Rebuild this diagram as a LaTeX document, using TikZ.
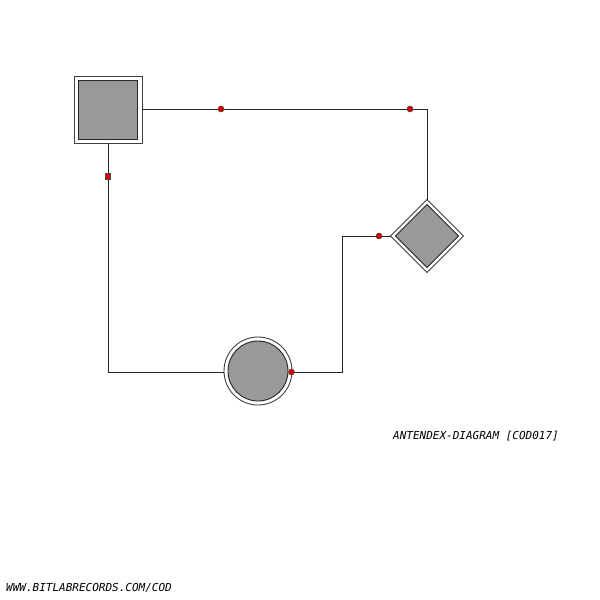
\documentclass[tikz,border=0pt]{standalone}
\usepackage{fontspec}
\newfontfamily\labelfont{DejaVu Sans Mono}
\usetikzlibrary{shapes.geometric}
\begin{document}
\begin{tikzpicture}[x=1pt,y=-1pt,
  outerbox/.style={draw=black!75,fill=white,line width=0.9pt,inner sep=0,outer sep=0},
  innerfill/.style={draw=black!85,fill=black!40,line width=0.9pt,inner sep=0,outer sep=0},
  wire/.style={draw=black!85,line width=1pt},
  rdot/.style={circle,fill=red!85!black,draw=black!70,line width=0.5pt,minimum size=6pt,inner sep=0},
  rsq/.style={rectangle,fill=red!85!black,draw=black!70,line width=0.5pt,minimum size=5.5pt,inner sep=0},
  caption/.style={font=\labelfont\itshape\fontsize{11}{12}\selectfont,inner sep=0,anchor=west}]
\useasboundingbox[fill=white] (0,0) rectangle (600,600);
% square
\node[outerbox,rectangle,minimum width=68,minimum height=67] (sq) at (108,109.5) {};
\node[innerfill,rectangle,minimum width=59,minimum height=59] (sqi) at (108,109.5) {};
% diamond
\node[outerbox,diamond,minimum width=73,minimum height=73] (dia) at (427,236) {};
\node[innerfill,diamond,minimum width=63,minimum height=63] (diai) at (427,236) {};
% circle
\node[outerbox,circle,minimum size=68] (circ) at (258,371) {};
\node[innerfill,circle,minimum size=60] (circi) at (258,371) {};
% corners
\coordinate (c1) at (427,109);
\coordinate (c2) at (108,372);
\coordinate (c3) at (342,372);
\coordinate (c4) at (342,236);
% wires
\draw[wire] (sq.east |- c1) -- (c1) -- (dia.north);
\draw[wire] (sq.south) -- (c2) -- (circ.west |- c2);
\draw[wire] (circ.east |- c3) -- (c3) -- (c4) -- (dia.west);
% markers
\node[rdot] (m1) at (221,109) {};
\node[rdot] (m2) at (410,109) {};
\node[rsq] (m3) at (107.5,176) {};
\node[rdot] (m4) at (291.5,372) {};
\node[rdot] (m5) at (379,236) {};
% texts
\node[caption] (t1) at (393,436) {ANTENDEX-DIAGRAM [COD017]};
\node[caption] (t2) at (6,587.5) {WWW.BITLABRECORDS.COM/COD};
\end{tikzpicture}
\end{document}
